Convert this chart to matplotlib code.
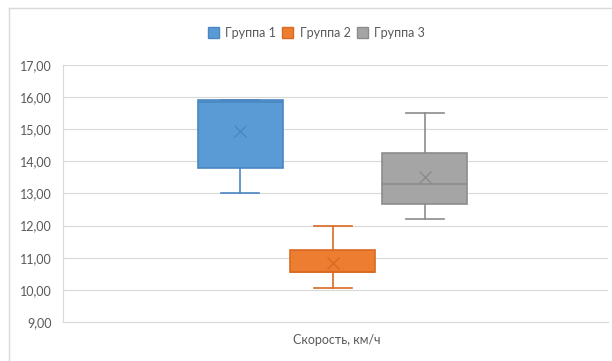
import matplotlib
matplotlib.use("Agg")
import matplotlib.pyplot as plt
from matplotlib.patches import Patch
from matplotlib.lines import Line2D

plt.rcParams['font.family'] = ['Lato', 'DejaVu Sans']

groups = ["Группа 1", "Группа 2", "Группа 3"]
whislo = [13.0, 10.05, 12.22]
q1 = [13.8, 10.55, 12.68]
med = [15.85, 10.55, 13.3]
q3 = [15.9, 11.25, 14.25]
whishi = [15.9, 12.0, 15.5]
means = [14.95, 10.85, 13.5]
x_label = "Скорость, км/ч"
yticks = [9, 10, 11, 12, 13, 14, 15, 16, 17]

fills = ["#5B9BD5", "#ED7D31", "#A5A5A5"]
edges = ["#4A87C2", "#D86A22", "#8C8C8C"]

fig = plt.figure(figsize=(6.12, 3.61), dpi=100)
ax = fig.add_axes([0.103, 0.108, 0.890, 0.712])

positions = [0.325, 0.495, 0.664]
width = 0.156
for i in range(3):
    st = [dict(whislo=whislo[i], q1=q1[i], med=med[i], q3=q3[i], whishi=whishi[i],
               mean=means[i], fliers=[], label=groups[i])]
    ax.bxp(st, positions=[positions[i]], widths=width, patch_artist=True,
           showmeans=True, showfliers=False,
           boxprops=dict(facecolor=fills[i], edgecolor=edges[i], linewidth=1.2),
           medianprops=dict(color=edges[i], linewidth=1.2),
           whiskerprops=dict(color=edges[i], linewidth=1.2),
           capprops=dict(color=edges[i], linewidth=1.2),
           capwidths=width * 0.45,
           meanprops=dict(marker='x', markeredgecolor=edges[i], markersize=9,
                          markeredgewidth=1.0))

ax.set_xlim(0, 1)
ax.set_ylim(9, 17)
ax.set_yticks(yticks)
ax.set_yticklabels([f"{v:.2f}".replace('.', ',') for v in yticks],
                   fontsize=9, color="#595959")
ax.set_xticks([])
ax.tick_params(axis='y', length=0, pad=8)
ax.grid(axis='y', color="#D9D9D9", linewidth=0.8)
ax.set_axisbelow(True)
for s in ['top', 'right']:
    ax.spines[s].set_visible(False)
ax.spines['left'].set_color("#D9D9D9")
ax.spines['bottom'].set_color("#D9D9D9")

fig.text(0.55, 0.058, x_label, ha='center', va='center', fontsize=9, color="#595959")

handles = [Patch(facecolor=fills[i], edgecolor=edges[i], label=groups[i]) for i in range(3)]
fig.legend(handles=handles, loc='center', bbox_to_anchor=(0.517, 0.909), ncol=3,
           frameon=False, fontsize=9, handlelength=0.9, handleheight=0.9,
           columnspacing=0.5, handletextpad=0.5, labelcolor="#595959")

fig.add_artist(Line2D([9/612, 9/612], [0, 1 - 8/361], color="#D9D9D9", linewidth=1))
fig.add_artist(Line2D([9/612, 1], [1 - 8/361, 1 - 8/361], color="#D9D9D9", linewidth=1))

fig.savefig("out.png", dpi=100)
